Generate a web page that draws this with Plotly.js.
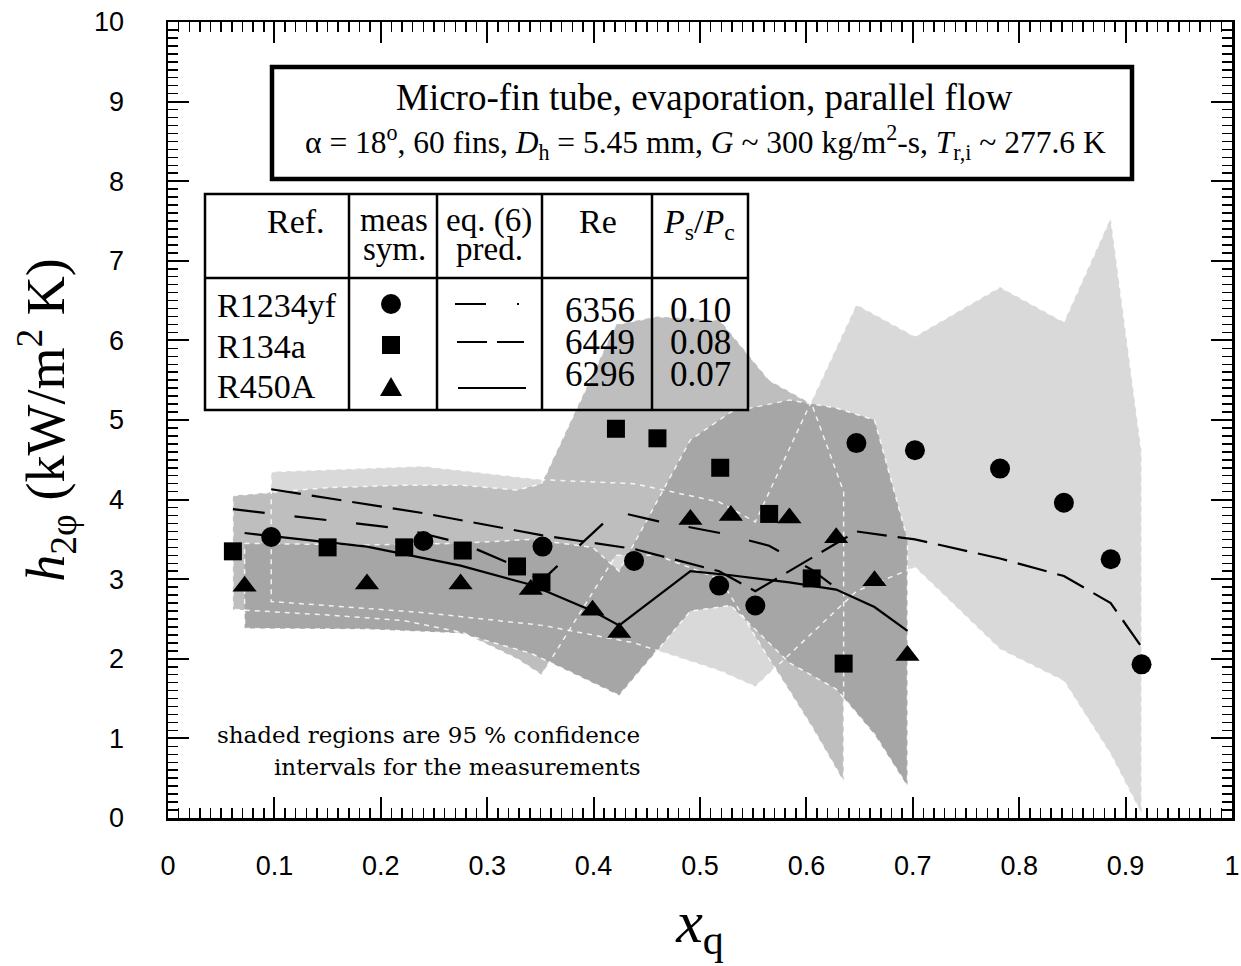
<!DOCTYPE html>
<html>
<head>
<meta charset="utf-8">
<script src="https://cdn.plot.ly/plotly-3.0.1.min.js"></script>
<style>html,body{margin:0;padding:0;background:#fff;}#chart{width:1241px;height:966px;}</style>
</head>
<body>
<div id="chart"></div>
<script>
// ---------- data ----------
const xR1234yf   = [0.097, 0.240, 0.352, 0.438, 0.518, 0.552, 0.647, 0.702, 0.782, 0.842, 0.886, 0.915];
const hR1234yf   = [3.53, 3.48, 3.41, 3.23, 2.92, 2.67, 4.71, 4.62, 4.39, 3.96, 3.25, 1.93];
const predR1234yf= [4.13, 3.83, 3.55, 3.38, 3.10, 2.85, 3.60, 3.50, 3.26, 3.04, 2.70, 2.15];
const upR1234yf  = [4.35, 4.42, 4.25, 4.20, 3.97, 3.72, 6.45, 6.05, 6.67, 6.23, 7.54, 4.60];
const loR1234yf  = [2.72, 2.58, 2.42, 2.20, 1.85, 1.65, 2.85, 3.15, 2.12, 1.72, 0.80, 0.05];

const xR134a     = [0.061, 0.150, 0.222, 0.277, 0.328, 0.351, 0.421, 0.460, 0.519, 0.565, 0.605, 0.635];
const hR134a     = [3.35, 3.40, 3.40, 3.36, 3.16, 2.96, 4.89, 4.77, 4.40, 3.82, 3.01, 1.94];
const predR134a  = [3.88, 3.74, 3.63, 3.45, 3.16, 2.98, 3.85, 3.73, 3.58, 3.42, 3.12, 2.82];
const upR134a    = [4.05, 4.15, 4.18, 4.18, 4.12, 4.20, 6.20, 6.30, 6.25, 5.50, 5.20, 4.10];
const loR134a    = [2.62, 2.55, 2.48, 2.33, 2.00, 1.80, 3.30, 3.30, 3.00, 2.00, 1.15, 0.46];

const xR450A     = [0.072, 0.187, 0.275, 0.341, 0.399, 0.424, 0.491, 0.529, 0.584, 0.628, 0.664, 0.695];
const hR450A     = [2.91, 2.94, 2.94, 2.87, 2.61, 2.33, 3.75, 3.80, 3.77, 3.52, 2.98, 2.04];
const predR450A  = [3.58, 3.41, 3.17, 2.93, 2.60, 2.42, 3.10, 3.05, 2.96, 2.87, 2.65, 2.35];
const upR450A    = [3.45, 3.43, 3.45, 3.50, 3.40, 3.10, 4.75, 5.10, 5.25, 5.15, 5.00, 3.50];
const loR450A    = [2.38, 2.37, 2.32, 2.07, 1.70, 1.54, 2.60, 2.67, 1.95, 1.62, 1.05, 0.40];

const refNames   = ['R1234yf', 'R134a', 'R450A'];
const reValues   = ['6356', '6449', '6296'];
const psPcValues = ['0.10', '0.08', '0.07'];

// ---------- helpers ----------
const W = 1241, H = 966, L = 168, R = 1232, T = 22, B = 818;
const PX = p => (p - L) / (R - L);
const PY = p => (B - p) / (B - T);
const serif = 'Liberation Serif, Times New Roman, serif';

function band(x, up, lo, color) {
  return {x: x.concat(x.slice().reverse()), y: up.concat(lo.slice().reverse()),
          type: 'scatter', mode: 'lines', fill: 'toself', fillcolor: color,
          line: {width: 0}, hoverinfo: 'skip', showlegend: false};
}
function outline(x, up, lo) {
  const xs = x.concat(x.slice().reverse()); xs.push(x[0]);
  const ys = up.concat(lo.slice().reverse()); ys.push(up[0]);
  return {x: xs, y: ys, type: 'scatter', mode: 'lines',
          line: {color: 'rgba(255,255,255,0.85)', width: 1.5, dash: '5px,5px'},
          hoverinfo: 'skip', showlegend: false};
}
function pred(x, y, dash) {
  return {x: x, y: y, type: 'scatter', mode: 'lines',
          line: {color: '#000', width: 2.2, dash: dash}, hoverinfo: 'skip', showlegend: false};
}
function meas(x, y, symbol, size) {
  return {x: x, y: y, type: 'scatter', mode: 'markers',
          marker: {symbol: symbol, size: size, color: '#000'}, hoverinfo: 'skip', showlegend: false};
}

const traces = [
  band(xR1234yf, upR1234yf, loR1234yf, '#d9d9d9'),
  band(xR134a, upR134a, loR134a, '#bebebe'),
  band(xR450A, upR450A, loR450A, '#a6a6a6'),
  outline(xR1234yf, upR1234yf, loR1234yf),
  outline(xR134a, upR134a, loR134a),
  outline(xR450A, upR450A, loR450A),
  pred(xR1234yf, predR1234yf, '30px,11px'),
  pred(xR134a, predR134a, '32px,30px'),
  pred(xR450A, predR450A, 'solid'),
  meas(xR1234yf, hR1234yf, 'circle', 20),
  meas(xR134a, hR134a, 'square', 18),
  meas(xR450A, hR450A, 'triangle-up', 21)
];

// ---------- table + title box (layout decorations) ----------
const shapes = [];
const lineBlack = w => ({color: '#000', width: w});
shapes.push({type: 'rect', xref: 'paper', yref: 'paper', x0: PX(272), x1: PX(1132), y0: PY(179), y1: PY(67), line: lineBlack(4.5)});
shapes.push({type: 'rect', xref: 'paper', yref: 'paper', x0: PX(205), x1: PX(748), y0: PY(410), y1: PY(194), line: lineBlack(2.5)});
[349, 437, 542, 652].forEach(c => shapes.push({type: 'line', xref: 'paper', yref: 'paper', x0: PX(c), x1: PX(c), y0: PY(410), y1: PY(194), line: lineBlack(2.5)}));
shapes.push({type: 'line', xref: 'paper', yref: 'paper', x0: PX(205), x1: PX(748), y0: PY(278), y1: PY(278), line: lineBlack(2.5)});
const symX = 391;
shapes.push({type: 'circle', xref: 'paper', yref: 'paper', x0: PX(symX - 10), x1: PX(symX + 10), y0: PY(314), y1: PY(294), fillcolor: '#000', line: {width: 0}});
shapes.push({type: 'rect', xref: 'paper', yref: 'paper', x0: PX(symX - 9), x1: PX(symX + 9), y0: PY(354), y1: PY(336), fillcolor: '#000', line: {width: 0}});
shapes.push({type: 'path', xref: 'paper', yref: 'paper',
  path: 'M' + PX(symX - 11) + ',' + PY(396) + ' L' + PX(symX + 11) + ',' + PY(396) + ' L' + PX(symX) + ',' + PY(377) + ' Z',
  fillcolor: '#000', line: {width: 0}});
shapes.push({type: 'line', xref: 'paper', yref: 'paper', x0: PX(455), x1: PX(486), y0: PY(304), y1: PY(304), line: lineBlack(2)});
shapes.push({type: 'line', xref: 'paper', yref: 'paper', x0: PX(517), x1: PX(519), y0: PY(304), y1: PY(304), line: lineBlack(2)});
shapes.push({type: 'line', xref: 'paper', yref: 'paper', x0: PX(457), x1: PX(487), y0: PY(342), y1: PY(342), line: lineBlack(2)});
shapes.push({type: 'line', xref: 'paper', yref: 'paper', x0: PX(497), x1: PX(524), y0: PY(342), y1: PY(342), line: lineBlack(2)});
shapes.push({type: 'line', xref: 'paper', yref: 'paper', x0: PX(458), x1: PX(526), y0: PY(388), y1: PY(388), line: lineBlack(2)});

const annotations = [];
function txt(text, px, py, size, xanchor, family) {
  annotations.push({text: text, xref: 'paper', yref: 'paper', x: PX(px), y: PY(py),
    xanchor: xanchor || 'center', yanchor: 'middle', showarrow: false, borderpad: 0,
    font: {family: family || serif, size: size, color: '#000'}});
}
txt('Micro-fin tube, evaporation, parallel flow', 704, 98, 37);
txt('α = 18<sup>o</sup>, 60 fins, <i>D</i><sub>h</sub> = 5.45 mm, <i>G</i> ~ 300 kg/m<sup>2</sup>-s, <i>T</i><sub>r,i</sub> ~ 277.6 K', 705, 143, 31.5);
txt('Ref.', 296, 221, 34);
txt('meas', 394, 220, 33);
txt('sym.', 394, 249, 33);
txt('eq. (6)', 489, 220, 33);
txt('pred.', 489, 249, 33);
txt('Re', 598, 221, 34);
txt('<i>P</i><sub>s</sub>/<i>P</i><sub>c</sub>', 699, 224, 34);
const rowY = [305, 346, 386];
refNames.forEach((n, i) => txt(n, 216, rowY[i], 34, 'left'));
const numY = [310, 342, 374];
reValues.forEach((v, i) => txt(v, 600, numY[i], 35));
psPcValues.forEach((v, i) => txt(v, 700, numY[i], 35));
txt('shaded regions are 95 % confidence', 641, 735, 23, 'right', 'DejaVu Serif, serif');
txt('intervals for the measurements', 641, 767, 23, 'right', 'DejaVu Serif, serif');

const tickFont = {family: 'Liberation Sans, Arial, sans-serif', size: 27, color: '#000'};
const layout = {
  width: W, height: H,
  margin: {l: L, r: W - R, t: T, b: H - B, pad: 0},
  paper_bgcolor: '#fff', plot_bgcolor: '#fff',
  showlegend: false,
  xaxis: {
    range: [0, 1], tick0: 0, dtick: 0.1, ticks: 'inside', ticklen: 21, tickwidth: 2, tickcolor: '#000',
    showline: true, linewidth: 2.5, linecolor: '#000', mirror: 'ticks', showgrid: false, zeroline: false,
    minor: {dtick: 0.01, ticks: 'inside', ticklen: 10, tickwidth: 1.5, tickcolor: '#000', showgrid: false},
    tickfont: tickFont, ticklabelstandoff: 22,
    title: {text: '<i>x</i><sub>q</sub>', font: {family: serif, size: 60, color: '#000'}, standoff: 20}
  },
  yaxis: {
    range: [0, 10], tick0: 0, dtick: 1, ticks: 'inside', ticklen: 21, tickwidth: 2, tickcolor: '#000',
    showline: true, linewidth: 2.5, linecolor: '#000', mirror: 'ticks', showgrid: false, zeroline: false,
    minor: {dtick: 0.1, ticks: 'inside', ticklen: 10, tickwidth: 1.5, tickcolor: '#000', showgrid: false},
    tickfont: tickFont, ticklabelstandoff: 36,
    title: {text: '<i>h</i><sub>2φ</sub> (kW/m<sup>2</sup> K)', font: {family: serif, size: 54, color: '#000'}, standoff: 12}
  },
  shapes: shapes,
  annotations: annotations
};

Plotly.newPlot('chart', traces, layout, {staticPlot: true, displayModeBar: false});
</script>
</body>
</html>
